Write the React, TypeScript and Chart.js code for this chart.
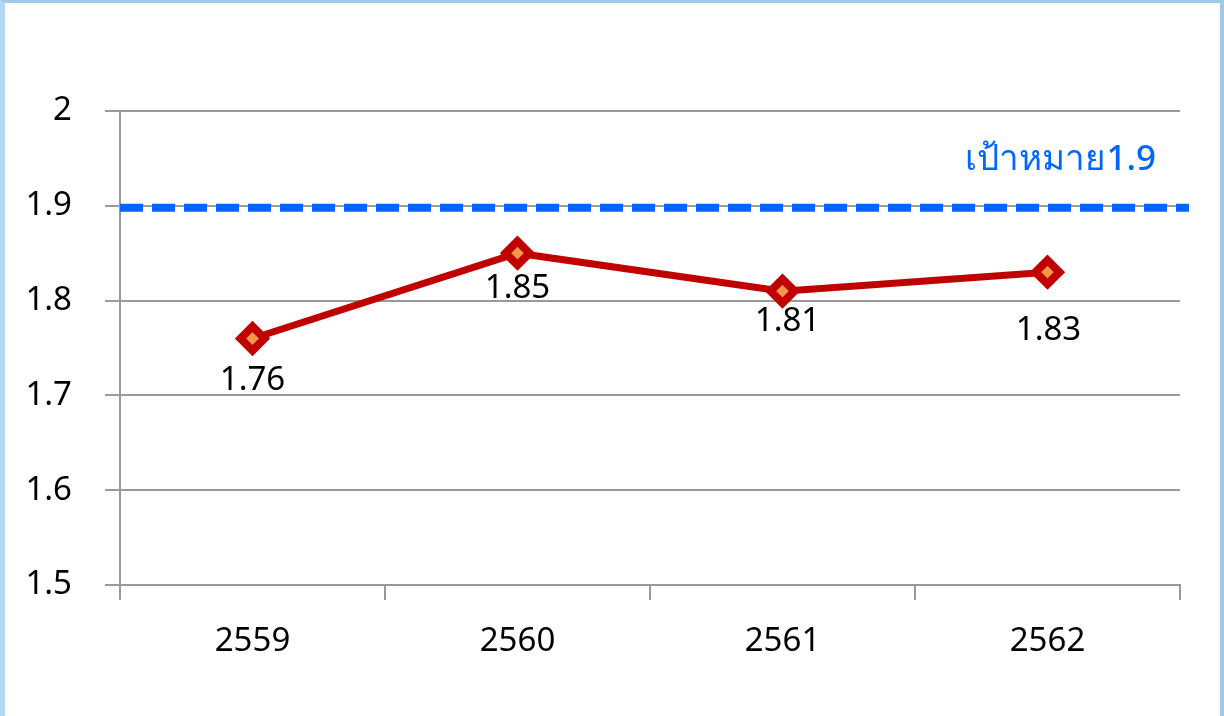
import React, { useEffect, useRef } from "react";
import { Chart, registerables } from "chart.js";

Chart.register(...registerables);

const categories = ["2559", "2560", "2561", "2562"];
const values = [1.76, 1.85, 1.81, 1.83];
const valueLabels = ["1.76", "1.85", "1.81", "1.83"];
const targetValue = 1.9;
const targetLabel = "เป้าหมาย1.9";
const yTicks = [1.5, 1.6, 1.7, 1.8, 1.9, 2];

const FONT = "'Noto Sans', 'DejaVu Sans', sans-serif";

const overlayPlugin = {
  id: "overlay",
  beforeDatasetsDraw(chart: any) {
    const { ctx, chartArea, scales } = chart;
    const y = scales.y.getPixelForValue(targetValue) + 2;
    ctx.save();
    ctx.strokeStyle = "#0066FF";
    ctx.lineWidth = 8;
    ctx.setLineDash([23, 9]);
    ctx.beginPath();
    ctx.moveTo(chartArea.left, y);
    ctx.lineTo(chartArea.right + 9, y);
    ctx.stroke();
    ctx.setLineDash([]);
    ctx.fillStyle = "#0066FF";
    ctx.font = `500 35px ${FONT}`;
    ctx.textAlign = "right";
    ctx.textBaseline = "middle";
    ctx.fillText(targetLabel, chartArea.right - 24, y - 48);
    ctx.restore();
  },
  afterDatasetsDraw(chart: any) {
    const { ctx } = chart;
    const meta = chart.getDatasetMeta(0);
    const dy = [42, 35, 30, 58];
    const dx = [0, 0, 5, 1];
    ctx.save();
    ctx.fillStyle = "#000000";
    ctx.font = `33px ${FONT}`;
    ctx.textAlign = "center";
    ctx.textBaseline = "middle";
    meta.data.forEach((pt: any, i: number) => {
      ctx.fillText(valueLabels[i], pt.x + dx[i], pt.y + dy[i]);
    });
    ctx.restore();
  },
};

export default function App() {
  const ref = useRef<HTMLCanvasElement>(null);
  useEffect(() => {
    if (!ref.current) return;
    const chart = new Chart(ref.current, {
      type: "line",
      data: {
        labels: categories,
        datasets: [
          {
            data: values,
            borderColor: "#C00000",
            borderWidth: 7,
            pointStyle: "rectRot",
            pointRadius: 12,
            pointBorderWidth: 8,
            pointBackgroundColor: "#F79646",
            pointBorderColor: "#C00000",
            tension: 0,
          },
        ],
      },
      options: {
        animation: false,
        responsive: false,
        maintainAspectRatio: false,
        layout: { padding: { left: 0, right: 40, top: 108, bottom: 0 } },
        plugins: {
          legend: { display: false },
          tooltip: { enabled: false },
        },
        scales: {
          x: {
            offset: true,
            grid: {
              offset: true,
              drawOnChartArea: false,
              drawTicks: true,
              tickLength: 15,
              color: "#999999",
              lineWidth: 2,
            },
            border: { display: true, color: "#999999", width: 2 },
            ticks: {
              color: "#000000",
              font: { family: FONT, size: 33 },
              padding: 22,
            },
            afterFit(scale: any) {
              scale.height = 131;
            },
          },
          y: {
            min: 1.5,
            max: 2,
            afterBuildTicks(scale: any) {
              scale.ticks = yTicks.map((v) => ({ value: v }));
            },
            grid: {
              color: "#999999",
              lineWidth: 2,
              tickLength: 15,
            },
            border: { display: true, color: "#999999", width: 2 },
            ticks: {
              color: "#000000",
              font: { family: FONT, size: 33 },
              padding: 33,
              callback: (v: any) => String(Math.round(Number(v) * 10) / 10),
            },
            afterFit(scale: any) {
              scale.width = 115;
            },
          },
        },
      },
      plugins: [overlayPlugin],
    });
    return () => chart.destroy();
  }, []);

  return (
    <div
      style={{
        position: "fixed",
        left: 0,
        top: 0,
        width: 1224,
        height: 716,
        boxSizing: "border-box",
        borderLeft: "5px solid #B4D6EE",
        borderTop: "3px solid #A0C8E8",
        borderRight: "4px solid #A0C8E8",
        background: "#FFFFFF",
      }}
    >
      <canvas ref={ref} width={1215} height={713} style={{ display: "block" }} />
    </div>
  );
}
